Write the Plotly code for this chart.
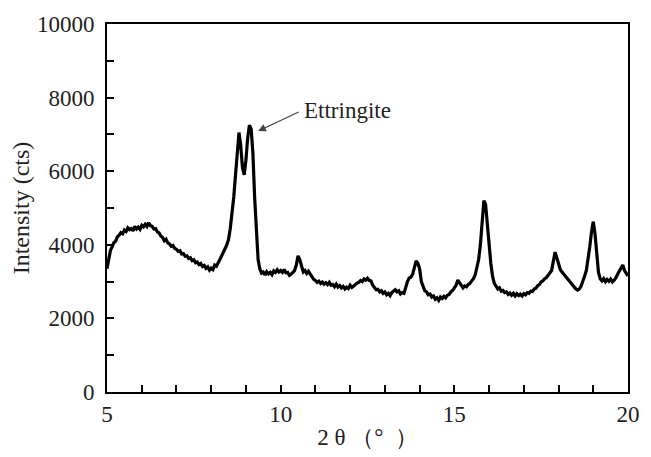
import plotly.graph_objects as go

# 2θ sampling grid (0.05° step, 5°–20°)
two_theta = [round(5 + 0.05 * i, 2) for i in range(301)]

# Intensity (cts), one row per degree
intensity = (
    [3350, 3600, 3850, 3950, 4060, 4100, 4220, 4260, 4330, 4300, 4400, 4360, 4460, 4410, 4440, 4380, 4500, 4430, 4480, 4420]
    + [4530, 4490, 4560, 4500, 4600, 4520, 4500, 4430, 4440, 4350, 4320, 4240, 4200, 4110, 4150, 4050, 4020, 3960, 3980, 3900]
    + [3880, 3820, 3840, 3750, 3760, 3690, 3700, 3630, 3650, 3570, 3590, 3510, 3530, 3460, 3490, 3410, 3440, 3360, 3400, 3310]
    + [3370, 3330, 3450, 3420, 3540, 3600, 3700, 3780, 3900, 4000, 4150, 4450, 4800, 5300, 5900, 6600, 7050, 6700, 6100, 5900]
    + [6300, 6900, 7250, 7150, 6500, 5300, 4300, 3600, 3350, 3230, 3260, 3180, 3270, 3210, 3250, 3190, 3290, 3250, 3320, 3260]
    + [3300, 3250, 3330, 3240, 3250, 3170, 3200, 3250, 3300, 3450, 3700, 3600, 3380, 3260, 3300, 3220, 3280, 3200, 3160, 3060]
    + [3030, 2980, 3010, 2950, 2990, 2930, 2970, 2920, 2980, 2900, 2920, 2860, 2930, 2850, 2890, 2830, 2870, 2800, 2850, 2810]
    + [2900, 2840, 2880, 2930, 2960, 2980, 3030, 3000, 3070, 3040, 3090, 3030, 3020, 2900, 2840, 2780, 2790, 2720, 2750, 2680]
    + [2720, 2640, 2680, 2620, 2700, 2740, 2780, 2720, 2750, 2660, 2700, 2680, 2860, 3000, 3100, 3120, 3200, 3350, 3560, 3500]
    + [3350, 3000, 2860, 2750, 2720, 2640, 2660, 2580, 2610, 2520, 2560, 2490, 2580, 2540, 2600, 2560, 2630, 2650, 2720, 2760]
    + [2830, 2900, 3040, 2960, 2870, 2830, 2880, 2860, 2920, 2950, 3020, 3080, 3180, 3350, 3600, 4000, 4600, 5200, 5100, 4500]
    + [3900, 3500, 3150, 2950, 2880, 2800, 2830, 2740, 2760, 2700, 2720, 2650, 2690, 2630, 2680, 2610, 2670, 2620, 2660, 2610]
    + [2670, 2640, 2700, 2680, 2740, 2730, 2800, 2820, 2890, 2920, 2990, 3020, 3080, 3110, 3170, 3220, 3300, 3550, 3800, 3650]
    + [3450, 3330, 3260, 3200, 3130, 3080, 3010, 2960, 2900, 2860, 2800, 2770, 2800, 2880, 3000, 3150, 3300, 3600, 3950, 4350]
    + [4630, 4300, 3700, 3250, 3080, 3020, 3080, 3000, 3060, 3010, 3070, 2990, 3040, 3100, 3200, 3280, 3380, 3450, 3300, 3220]
    + [3150]
)

x_ticks = [5, 10, 15, 20]
y_ticks = [0, 2000, 4000, 6000, 8000, 10000]
label_text = "Ettringite"

FONT = "Liberation Serif, Times New Roman, serif"

fig = go.Figure()
fig.add_trace(go.Scatter(x=two_theta, y=intensity, mode="lines",
                         line=dict(color="black", width=3.2), showlegend=False))

# the page body adds an 8px offset, so the figure is 8px smaller and margins compensate
fig.update_layout(
    width=643, height=449,
    margin=dict(l=99, r=23, t=16, b=65),
    paper_bgcolor="white", plot_bgcolor="white",
    font=dict(family=FONT, size=23, color="#222222"),
    xaxis=dict(range=[5, 20], tickvals=x_ticks, ticktext=[str(v) for v in x_ticks],
               ticks="inside", ticklen=3, tickwidth=2, tickcolor="black",
               minor=dict(dtick=1, ticks="inside", ticklen=7, tickwidth=2, tickcolor="black"),
               showline=True, linecolor="black", linewidth=2, mirror=True,
               showgrid=False, zeroline=False, automargin=False,
               title=dict(text="2 θ （°  ）", font=dict(size=23), standoff=3)),
    yaxis=dict(range=[0, 10000], tickvals=y_ticks, ticktext=[str(v) for v in y_ticks],
               ticks="inside", ticklen=7, tickwidth=2, tickcolor="black",
               minor=dict(dtick=1000, ticks="inside", ticklen=7, tickwidth=2, tickcolor="black"),
               showline=True, linecolor="black", linewidth=2, mirror=True,
               showgrid=False, zeroline=False, automargin=False, ticklabelstandoff=6,
               title=dict(text="Intensity (cts)", font=dict(size=24), standoff=8)),
)

fig.add_annotation(x=9.35, y=7090, ax=10.56, ay=7630, axref="x", ayref="y",
                   xref="x", yref="y", text="", showarrow=True,
                   arrowhead=2, arrowsize=1.3, arrowwidth=1.2, arrowcolor="#444444")
fig.add_annotation(x=10.6, y=7660, xref="x", yref="y", text=label_text, showarrow=False,
                   xanchor="left", yanchor="middle", font=dict(size=23, color="#222222"))

fig.write_html("out.html")
